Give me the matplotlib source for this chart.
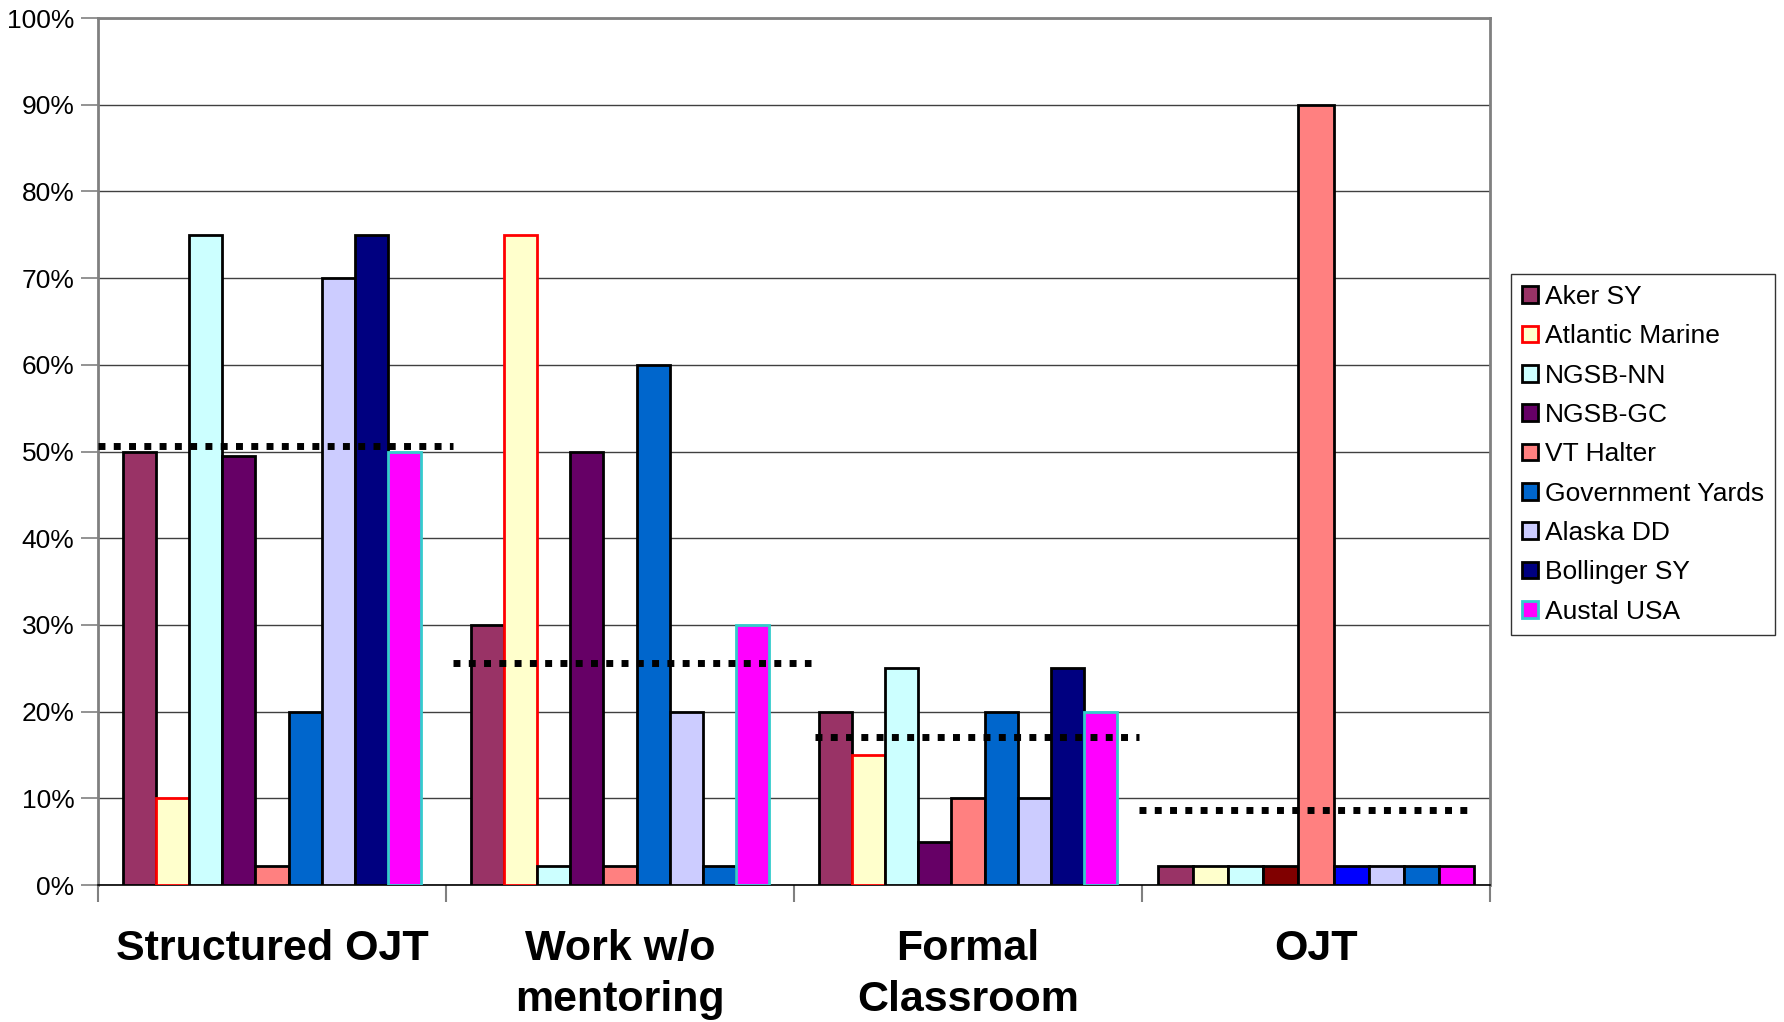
import numpy as np
import matplotlib.pyplot as plt
from matplotlib.patches import Patch

plt.rcParams['font.family'] = ['Liberation Sans', 'DejaVu Sans']

# Data (percent)
categories = ['Structured OJT', 'Work w/o\nmentoring', 'Formal\nClassroom', 'OJT']
series = ['Aker SY', 'Atlantic Marine', 'NGSB-NN', 'NGSB-GC', 'VT Halter',
          'Government Yards', 'Alaska DD', 'Bollinger SY', 'Austal USA']
aker = [50, 30, 20, 2.2]
atlantic = [10, 75, 15, 2.2]
ngsb_nn = [75, 2.2, 25, 2.2]
ngsb_gc = [49.5, 50, 5, 2.2]
vt_halter = [2.2, 2.2, 10, 90]
gov_yards = [20, 60, 20, 2.2]
alaska = [70, 20, 10, 2.2]
bollinger = [75, 2.2, 25, 2.2]
austal = [50, 30, 20, 2.2]
values = [aker, atlantic, ngsb_nn, ngsb_gc, vt_halter, gov_yards, alaska, bollinger, austal]

# average lines per category
avg_values = [50.6, 25.6, 17.1, 8.7]
avg_start = [-0.5, 0.52, 1.56, 2.49]
avg_end = [0.52, 1.55, 2.49, 3.44]

# styles
fills = ['#993366', '#FFFFCC', '#CCFFFF', '#660066', '#FF8080',
         '#0066CC', '#CCCCFF', '#000080', '#FF00FF']
edges = ['black', '#FF0000', 'black', 'black', 'black',
         'black', 'black', 'black', '#33CCCC']
# a few bars are drawn with other colours in the original
fill_override = {(7, 1): '#0066CC', (3, 3): '#800000', (5, 3): '#0000FF', (7, 3): '#0066CC'}
edge_override = {(1, 3): 'black', (8, 3): 'black'}

fig = plt.figure(figsize=(17.84, 10.22), dpi=100)
ax = fig.add_axes([98 / 1784, 1 - 885 / 1022, 1392 / 1784, 867 / 1022])

x = np.arange(len(categories))
n = len(series)
group = np.array([0.856, 0.856, 0.856, 0.91])  # OJT group is drawn a bit wider
w = group / n
for i, vals in enumerate(values):
    pos = x - group / 2 + w * (i + 0.5)
    fc = [fill_override.get((i, j), fills[i]) for j in range(len(categories))]
    ec = [edge_override.get((i, j), edges[i]) for j in range(len(categories))]
    ax.bar(pos, vals, width=w, color=fc, edgecolor=ec, linewidth=2, zorder=3)

for v, s, e in zip(avg_values, avg_start, avg_end):
    ax.plot([s, e], [v, v], color='black', linestyle=(0, (1, 1.2)), linewidth=5,
            zorder=4, solid_capstyle='butt', dash_capstyle='butt')

ax.set_xlim(-0.5, len(categories) - 0.5)
ax.set_ylim(0, 100)
ax.set_yticks(np.arange(0, 101, 10))
ax.set_yticklabels([f'{t}%' for t in range(0, 101, 10)], fontsize=19)
ax.yaxis.grid(True, color='#404040', linewidth=1)
ax.set_axisbelow(True)

ax.set_xticks(x)
ax.set_xticklabels(categories, fontsize=31, fontweight='bold', linespacing=1.35)
ax.tick_params(axis='x', length=0, pad=32)
ax.set_xticks(np.arange(-0.5, len(categories)), minor=True)
ax.tick_params(axis='x', which='minor', length=12, color='#808080', width=1.5)
ax.tick_params(axis='y', length=12, color='#808080', width=1.2, pad=5)

for side in ['left', 'right', 'top', 'bottom']:
    ax.spines[side].set_color('#808080')
    ax.spines[side].set_linewidth(2)
ax.spines['bottom'].set_color('black')
ax.spines['bottom'].set_linewidth(1.2)

handles = [Patch(facecolor=fills[i], edgecolor=edges[i], linewidth=2) for i in range(n)]
leg = fig.legend(handles, series, loc='upper left', bbox_to_anchor=(1511 / 1784, 1 - 274 / 1022),
                 fontsize=19, frameon=True, fancybox=False, handlelength=0.6, handleheight=0.6,
                 handletextpad=0.25, labelspacing=0.58, borderpad=0.42, borderaxespad=0)
leg.get_frame().set_edgecolor('black')
leg.get_frame().set_linewidth(1)

fig.savefig('out.png', dpi=100)
